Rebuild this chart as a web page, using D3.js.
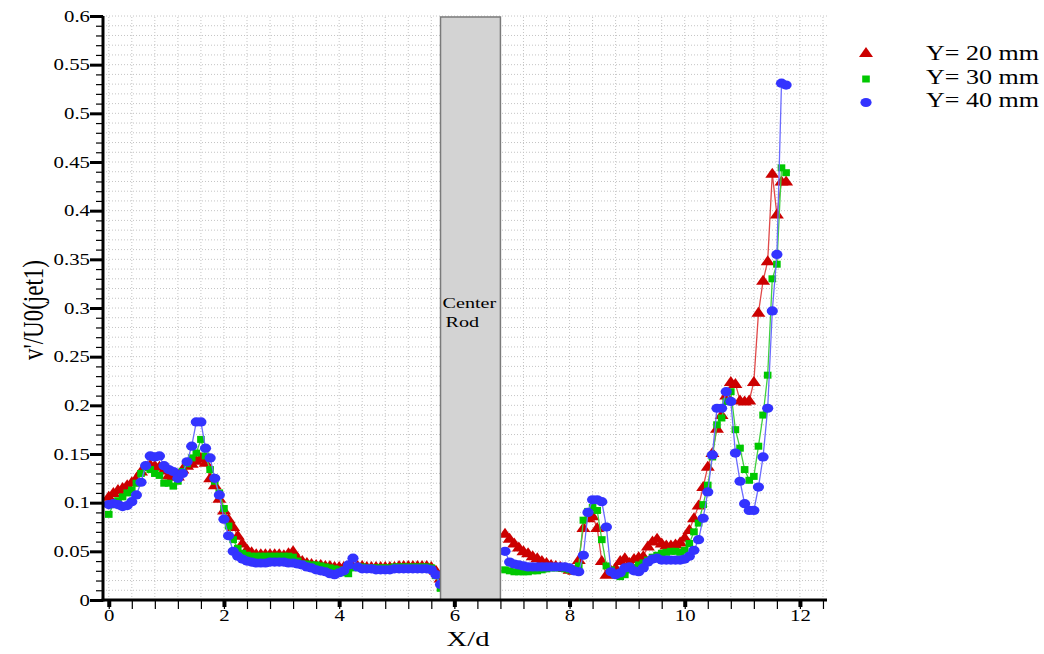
<!DOCTYPE html>
<html>
<head>
<meta charset="utf-8">
<script src="https://cdn.jsdelivr.net/npm/d3@7"></script>
<style>
  body { margin: 0; background: #fff; }
  svg text { font-family: 'Liberation Serif', 'Times New Roman', serif; fill: #000; }
</style>
</head>
<body>
<svg id="chart" width="1044" height="654"></svg>
<script>
// X/d positions (1 mm steps), left and right of the center rod
const xPos = [
  0, 0.08, 0.16, 0.24, 0.32, 0.4, 0.48, 0.56, 0.64, 0.72,
  0.8, 0.88, 0.96, 1.04, 1.12, 1.2, 1.28, 1.36, 1.44, 1.52,
  1.6, 1.68, 1.76, 1.84, 1.92, 2, 2.08, 2.16, 2.24, 2.32,
  2.4, 2.48, 2.56, 2.64, 2.72, 2.8, 2.88, 2.96, 3.04, 3.12,
  3.2, 3.28, 3.36, 3.44, 3.52, 3.6, 3.68, 3.76, 3.84, 3.92,
  4, 4.08, 4.16, 4.24, 4.32, 4.4, 4.48, 4.56, 4.64, 4.72,
  4.8, 4.88, 4.96, 5.04, 5.12, 5.2, 5.28, 5.36, 5.44, 5.52,
  5.6, 5.68, 5.76,
  6.88, 6.96, 7.04, 7.12, 7.2, 7.28, 7.36, 7.44, 7.52, 7.6,
  7.68, 7.76, 7.84, 7.92, 8, 8.08, 8.16, 8.24, 8.32, 8.4,
  8.48, 8.56, 8.64, 8.72, 8.8, 8.88, 8.96, 9.04, 9.12, 9.2,
  9.28, 9.36, 9.44, 9.52, 9.6, 9.68, 9.76, 9.84, 9.92, 10,
  10.08, 10.16, 10.24, 10.32, 10.4, 10.48, 10.56, 10.64, 10.72, 10.8,
  10.88, 10.96, 11.04, 11.12, 11.2, 11.28, 11.36, 11.44, 11.52, 11.6,
  11.68, 11.76
];

// Y = 20 mm
const y20 = [
  0.106, 0.110, 0.113, 0.115, 0.118, 0.121, 0.125, 0.132, 0.137, 0.139,
  0.138, 0.137, 0.133, 0.128, 0.127, 0.127, 0.134, 0.138, 0.140, 0.143,
  0.146, 0.141, 0.125, 0.118, 0.104, 0.092, 0.083, 0.075, 0.066, 0.058,
  0.052, 0.049, 0.047, 0.047, 0.047, 0.047, 0.047, 0.047, 0.046, 0.048,
  0.050, 0.043, 0.040, 0.038, 0.037, 0.036, 0.036, 0.035, 0.035, 0.034,
  0.034, 0.034, 0.035, 0.034, 0.035, 0.035, 0.034, 0.034, 0.034, 0.034,
  0.034, 0.034, 0.034, 0.035, 0.035, 0.035, 0.035, 0.035, 0.035, 0.035,
  0.034, 0.030, 0.022,
  0.068, 0.063, 0.058, 0.054, 0.050, 0.048, 0.045, 0.043, 0.040, 0.038,
  0.036, 0.035, 0.034, 0.033, 0.031, 0.030, 0.041, 0.074, 0.084, 0.086,
  0.074, 0.040, 0.026, 0.030, 0.033, 0.040, 0.043, 0.038, 0.042, 0.044,
  0.045, 0.055, 0.060, 0.063, 0.058, 0.056, 0.056, 0.057, 0.059, 0.064,
  0.072, 0.084, 0.097, 0.116, 0.137, 0.151, 0.176, 0.190, 0.210, 0.224,
  0.222, 0.205, 0.204, 0.205, 0.224, 0.295, 0.328, 0.348, 0.438, 0.396,
  0.430, 0.430
];

// Y = 30 mm
const y30 = [
  0.088, 0.098, 0.102, 0.106, 0.110, 0.113, 0.120, 0.130, 0.136, 0.134,
  0.130, 0.128, 0.120, 0.120, 0.117, 0.122, 0.132, 0.140, 0.146, 0.151,
  0.165, 0.148, 0.134, 0.122, 0.110, 0.094, 0.076, 0.062, 0.053, 0.048,
  0.046, 0.045, 0.045, 0.045, 0.045, 0.045, 0.045, 0.045, 0.045, 0.045,
  0.044, 0.040, 0.037, 0.037, 0.036, 0.036, 0.035, 0.034, 0.033, 0.032,
  0.031, 0.028, 0.027, 0.033, 0.034, 0.034, 0.033, 0.033, 0.033, 0.033,
  0.033, 0.033, 0.034, 0.034, 0.034, 0.034, 0.034, 0.034, 0.034, 0.034,
  0.033, 0.025, 0.012,
  0.031, 0.030, 0.029, 0.029, 0.029, 0.029, 0.030, 0.030, 0.031, 0.032,
  0.033, 0.033, 0.033, 0.032, 0.031, 0.030, 0.035, 0.082, 0.091, 0.095,
  0.092, 0.062, 0.035, 0.031, 0.026, 0.024, 0.026, 0.031, 0.033, 0.036,
  0.038, 0.041, 0.044, 0.046, 0.048, 0.049, 0.050, 0.050, 0.049, 0.051,
  0.058, 0.070, 0.079, 0.098, 0.118, 0.147, 0.180, 0.187, 0.204, 0.214,
  0.175, 0.156, 0.134, 0.123, 0.127, 0.158, 0.190, 0.231, 0.330, 0.345,
  0.444, 0.439
];

// Y = 40 mm
const y40 = [
  0.098, 0.099, 0.098, 0.096, 0.097, 0.101, 0.108, 0.121, 0.138, 0.148,
  0.147, 0.148, 0.138, 0.134, 0.132, 0.125, 0.130, 0.142, 0.158, 0.183,
  0.183, 0.156, 0.146, 0.125, 0.108, 0.083, 0.066, 0.050, 0.045, 0.042,
  0.040, 0.039, 0.038, 0.038, 0.038, 0.039, 0.039, 0.039, 0.039, 0.038,
  0.038, 0.037, 0.036, 0.034, 0.033, 0.031, 0.030, 0.029, 0.027, 0.026,
  0.028, 0.030, 0.036, 0.043, 0.034, 0.032, 0.032, 0.032, 0.031, 0.031,
  0.031, 0.031, 0.032, 0.032, 0.032, 0.032, 0.032, 0.032, 0.032, 0.032,
  0.031, 0.026, 0.016,
  0.050, 0.039, 0.037, 0.036, 0.035, 0.034, 0.034, 0.034, 0.034, 0.034,
  0.034, 0.034, 0.034, 0.034, 0.033, 0.030, 0.029, 0.046, 0.090, 0.103,
  0.103, 0.101, 0.075, 0.029, 0.026, 0.028, 0.033, 0.034, 0.030, 0.029,
  0.033, 0.039, 0.042, 0.043, 0.041, 0.041, 0.041, 0.041, 0.041, 0.042,
  0.045, 0.051, 0.062, 0.084, 0.111, 0.149, 0.197, 0.197, 0.214, 0.204,
  0.151, 0.122, 0.099, 0.092, 0.092, 0.116, 0.147, 0.197, 0.297, 0.355,
  0.531, 0.529
];

const seriesNames = ['Y= 20 mm', 'Y= 30 mm', 'Y= 40 mm'];
const seriesColors = ['#cc0000', '#00c800', '#3333ff'];
const lineColors = ['#e04848', '#40d040', '#6a6aff'];

const xTicks = [0, 2, 4, 6, 8, 10, 12];
const xTickLabels = ['0', '2', '4', '6', '8', '10', '12'];
const yTicks = [0, 0.05, 0.1, 0.15, 0.2, 0.25, 0.3, 0.35, 0.4, 0.45, 0.5, 0.55, 0.6];
const yTickLabels = ['0', '0.05', '0.1', '0.15', '0.2', '0.25', '0.3', '0.35', '0.4', '0.45', '0.5', '0.55', '0.6'];

const rodRange = [5.76, 6.8];
const rodLabel = ['Center', 'Rod'];
const xTitle = 'X/d';
const yTitle = "v'/U0(jet1)";

const svg = d3.select('#chart');
const stretch = 'scale(1.3,1)'; // the original text is drawn wide

const xScale = d3.scaleLinear().domain([-0.1, 12.47]).range([103, 827]);
const yScale = d3.scaleLinear().domain([0, 0.6]).range([600, 16]);

const xMinor = d3.range(0, 32).map((i) => i * 0.4);
const yMinor = d3.range(0, 61).map((i) => i * 0.01);

// dotted grid
const grid = svg.append('g').attr('stroke', '#c4c4c4').attr('stroke-width', 1).attr('stroke-dasharray', '1,2');
grid.selectAll('.gx').data(xMinor).join('line')
  .attr('x1', (d) => xScale(d)).attr('x2', (d) => xScale(d))
  .attr('y1', yScale(0)).attr('y2', yScale(0.6));
grid.selectAll('.gy').data(yMinor.slice(1)).join('line')
  .attr('x1', xScale.range()[0]).attr('x2', xScale.range()[1])
  .attr('y1', (d) => yScale(d)).attr('y2', (d) => yScale(d));

// series
const series = [y20, y30, y40].map((ys, i) => ({
  name: seriesNames[i],
  color: seriesColors[i],
  line: lineColors[i],
  points: xPos.map((x, j) => ({ x: x, y: ys[j] })),
}));

const triangle = 'M0,-6L7,4L-7,4Z';
function drawMarker(g, k, color) {
  if (k === 0) {
    g.append('path').attr('d', triangle).attr('fill', color);
  } else if (k === 1) {
    g.append('rect').attr('x', -3.8).attr('y', -3.5).attr('width', 7.6).attr('height', 7).attr('fill', color);
  } else {
    g.append('ellipse').attr('rx', 5.6).attr('ry', 4.6).attr('fill', color);
  }
}

const lineGen = d3.line().x((d) => xScale(d.x)).y((d) => yScale(d.y));

series.forEach((s, k) => {
  svg.append('path')
    .datum(s.points)
    .attr('fill', 'none')
    .attr('stroke', s.line)
    .attr('stroke-width', 1.3)
    .attr('d', lineGen);
  const mg = svg.append('g');
  s.points.forEach((p) => {
    const g = mg.append('g').attr('transform', `translate(${xScale(p.x)},${yScale(p.y)})`);
    drawMarker(g, k, s.color);
  });
});

// center rod
svg.append('rect')
  .attr('x', xScale(rodRange[0]))
  .attr('y', yScale(0.599))
  .attr('width', xScale(rodRange[1]) - xScale(rodRange[0]))
  .attr('height', yScale(0) - yScale(0.599))
  .attr('fill', '#d3d3d3')
  .attr('stroke', '#7a7a7a')
  .attr('stroke-width', 1.5);
rodLabel.forEach((t, i) => {
  svg.append('text')
    .attr('transform', `translate(${xScale(rodRange[0]) + 2 + i * 3},${308 + i * 19}) ${stretch}`)
    .style('font-size', '15.5px')
    .text(t);
});

// y axis
const yAxisG = svg.append('g').attr('transform', `translate(${xScale.range()[0]},0)`);
yAxisG.append('g')
  .call(d3.axisLeft(yScale).tickValues(yMinor).tickSize(7).tickFormat(''))
  .call((g) => g.select('.domain').remove())
  .selectAll('line').attr('stroke-width', 1.2);
yAxisG.append('g')
  .call(d3.axisLeft(yScale).tickValues(yTicks).tickSize(13).tickFormat((d, i) => yTickLabels[i]))
  .call((g) => g.select('.domain').remove())
  .call((g) => g.selectAll('line').attr('stroke-width', 3))
  .selectAll('text')
  .attr('x', 0)
  .attr('transform', `translate(-13,0) ${stretch}`)
  .style('font-size', '16px')
  .attr('font-family', null);

// x axis
const xAxisG = svg.append('g').attr('transform', `translate(0,${yScale(0)})`);
xAxisG.append('g')
  .call(d3.axisBottom(xScale).tickValues(xMinor).tickSize(9).tickFormat(''))
  .call((g) => g.select('.domain').remove())
  .selectAll('line').attr('stroke-width', 1.2);
xAxisG.append('g')
  .call(d3.axisBottom(xScale).tickValues(xTicks).tickSize(7).tickFormat((d, i) => xTickLabels[i]))
  .call((g) => g.select('.domain').remove())
  .call((g) => g.selectAll('line').attr('stroke-width', 4))
  .selectAll('text')
  .attr('y', 0)
  .attr('dy', 0)
  .attr('transform', `translate(0,21) ${stretch}`)
  .style('font-size', '16px')
  .attr('font-family', null);

svg.selectAll('.tick text').attr('fill', '#000');

// axis lines
svg.append('line')
  .attr('x1', xScale.range()[0]).attr('x2', xScale.range()[0])
  .attr('y1', yScale(0.6)).attr('y2', yScale(0) + 1.5)
  .attr('stroke', '#000').attr('stroke-width', 3);
svg.append('line')
  .attr('x1', xScale.range()[0] - 1.5).attr('x2', xScale.range()[1])
  .attr('y1', yScale(0)).attr('y2', yScale(0))
  .attr('stroke', '#000').attr('stroke-width', 3);

// axis titles
svg.append('text')
  .attr('transform', `translate(468,646) ${stretch}`)
  .attr('text-anchor', 'middle')
  .style('font-size', '22px')
  .text(xTitle);
svg.append('text')
  .attr('transform', `translate(43,310) ${stretch} rotate(-90)`)
  .attr('text-anchor', 'middle')
  .style('font-size', '23px')
  .text(yTitle);

// legend
const legend = svg.append('g');
const legendY = [53, 79, 102.5];
const legendTextY = [60, 83.5, 107];
series.forEach((s, k) => {
  const g = legend.append('g').attr('transform', `translate(866,${legendY[k]})`);
  drawMarker(g, k, s.color);
  legend.append('text')
    .attr('transform', `translate(926,${legendTextY[k]}) ${stretch}`)
    .style('font-size', '20px')
    .text(s.name);
});
</script>
</body>
</html>
